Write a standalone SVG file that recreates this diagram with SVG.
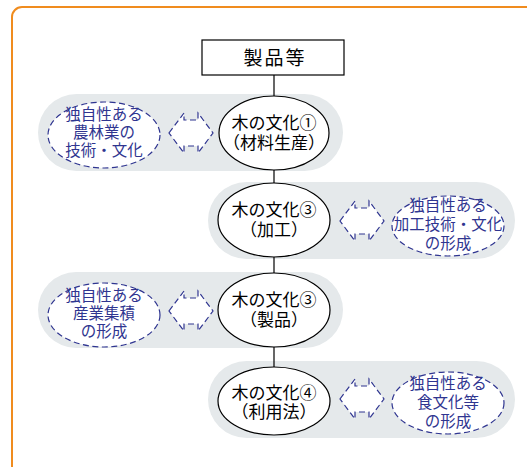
<svg xmlns="http://www.w3.org/2000/svg" width="527" height="467" viewBox="0 0 527 467">
<defs>
<style>
.frame{fill:none;stroke:#F08C1E;stroke-width:2}
.band{fill:#E5E9EB}
.node{fill:#fff;stroke:#000;stroke-width:1.2}
.dash{fill:#fff;stroke:#2F3590;stroke-width:1.2;stroke-dasharray:6 3.5}
.conn{stroke:#000;stroke-width:1.2;fill:none}
.t{font-family:"Noto Sans CJK JP","Noto Sans",sans-serif;font-size:17px;fill:#000;text-anchor:middle}
.b{font-family:"Noto Sans CJK JP","Noto Sans",sans-serif;font-size:15.5px;fill:#2F3590;text-anchor:middle}
.h{font-family:"Noto Sans CJK JP","Noto Sans",sans-serif;font-size:19px;fill:#000;text-anchor:middle;letter-spacing:2px}
</style>
<path id="arr" d="M-22,0 L-7,-20 L-7,-13 L7,-13 L7,-20 L22,0 L7,20 L7,13 L-7,13 L-7,20 Z"/>
</defs>
<rect class="frame" x="12" y="7" width="540" height="480" rx="10"/>
<rect class="band" x="38" y="94" width="305" height="77" rx="38.5"/>
<rect class="band" x="208" y="182" width="307" height="77" rx="38.5"/>
<rect class="band" x="38" y="272" width="305" height="76" rx="38"/>
<rect class="band" x="208" y="361" width="307" height="77" rx="38.5"/>
<g id="connectors">
<line class="conn" x1="274" y1="75" x2="274" y2="368"/>
</g>
<g id="top">
<rect x="202" y="40" width="142" height="35" fill="#fff" stroke="#000" stroke-width="1.2"/>
<text class="h" x="275" y="65">製品等</text>
</g>
<g id="n1">
<ellipse class="node" cx="274" cy="133" rx="55" ry="37"/>
<text class="t" x="274" y="129">木の文化①</text>
<text class="t" x="274" y="149">（材料生産）</text>
</g>
<g id="d1">
<ellipse class="dash" cx="104" cy="135" rx="56" ry="33"/>
<text class="b" x="104" y="120">独自性ある</text>
<text class="b" x="104" y="138">農林業の</text>
<text class="b" x="104" y="156">技術・文化</text>
</g>
<g id="a1"><use href="#arr" class="dash" x="191" y="133"/></g>
<g id="n2">
<ellipse class="node" cx="274" cy="220" rx="56" ry="37"/>
<text class="t" x="274" y="216">木の文化③</text>
<text class="t" x="274" y="236">（加工）</text>
</g>
<g id="a2"><use href="#arr" class="dash" x="362" y="221"/></g>
<g id="d2">
<ellipse class="dash" cx="448" cy="226" rx="56" ry="30"/>
<text class="b" x="448" y="211">独自性ある</text>
<text class="b" x="448" y="230">加工技術・文化</text>
<text class="b" x="448" y="249">の形成</text>
</g>
<g id="n3">
<ellipse class="node" cx="274" cy="310" rx="56" ry="37"/>
<text class="t" x="274" y="306">木の文化③</text>
<text class="t" x="274" y="326">（製品）</text>
</g>
<g id="d3">
<ellipse class="dash" cx="104" cy="315" rx="56" ry="32"/>
<text class="b" x="104" y="301">独自性ある</text>
<text class="b" x="104" y="319">産業集積</text>
<text class="b" x="104" y="337">の形成</text>
</g>
<g id="a3"><use href="#arr" class="dash" x="191" y="311"/></g>
<g id="n4">
<ellipse class="node" cx="274" cy="401" rx="56" ry="34"/>
<text class="t" x="274" y="399">木の文化④</text>
<text class="t" x="274" y="418">（利用法）</text>
</g>
<g id="a4"><use href="#arr" class="dash" x="362" y="399"/></g>
<g id="d4">
<ellipse class="dash" cx="448" cy="403" rx="56" ry="31"/>
<text class="b" x="448" y="389">独自性ある</text>
<text class="b" x="448" y="408">食文化等</text>
<text class="b" x="448" y="427">の形成</text>
</g>
</svg>
